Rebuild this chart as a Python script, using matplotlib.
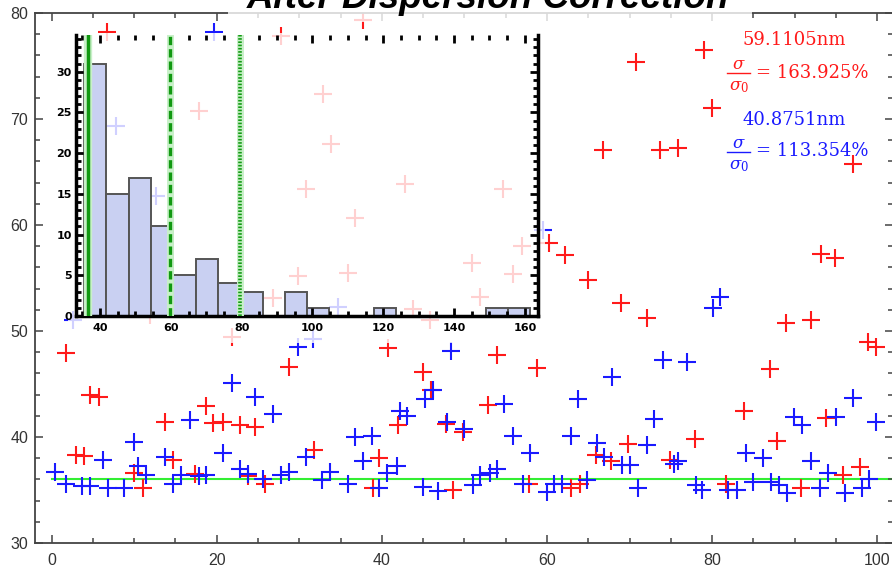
import matplotlib.pyplot as plt
import numpy as np
from matplotlib.patches import Rectangle
from matplotlib.lines import Line2D
from matplotlib.ticker import MultipleLocator


# Scatter data (positions along x are not exact integers)
red_x = [1.75, 2.96, 3.97, 4.6, 5.8, 6.7, 10.0, 11.05, 11.9, 13.8, 14.7, 17.4, 17.8, 18.7, 19.5,
         20.8, 21.8, 22.8, 23.8, 24.7, 25.8, 26.8, 27.8, 28.8, 29.9, 30.8, 31.8, 32.9, 33.8, 35.9,
         36.8, 37.75, 38.9, 39.7, 40.75, 42.0, 42.8, 43.8, 45.0, 45.8, 46.0, 47.8, 48.6, 49.8, 50.9,
         51.9, 52.9, 53.9, 54.7, 55.9, 57.0, 57.8, 58.8, 60.2, 62.2, 62.9, 64.0, 65.0, 65.9, 66.8,
         67.8, 69.0, 69.8, 70.8, 72.1, 73.7, 74.9, 75.9, 77.9, 79.0, 80.0, 81.7, 83.9, 87.0, 87.8,
         89.0, 90.8, 92.0, 93.2, 93.8, 94.9, 95.8, 97.0, 97.9, 98.9, 99.9]
red_y = [47.9, 38.3, 38.2, 44.0, 43.8, 78.2, 36.6, 35.2, 51.5, 41.4, 37.8, 36.5, 70.8, 42.9, 41.3,
         41.4, 49.4, 41.1, 36.3, 40.9, 35.6, 53.1, 77.8, 46.6, 55.2, 63.4, 38.8, 72.4, 67.6, 55.5,
         60.7, 79.3, 35.2, 38.0, 48.4, 41.1, 63.9, 52.1, 46.1, 51.0, 44.4, 41.2, 35.0, 40.5, 56.4,
         53.2, 43.0, 47.7, 63.4, 55.4, 58.0, 35.6, 46.5, 58.3, 57.2, 35.2, 35.6, 54.8, 38.3, 67.1,
         37.7, 52.6, 39.3, 75.4, 51.2, 67.1, 37.8, 67.3, 39.8, 76.5, 71.0, 35.6, 42.5, 46.4, 39.6,
         50.8, 35.2, 51.0, 57.3, 41.8, 56.9, 36.4, 65.8, 37.2, 49.0, 48.5]

blue_x = [0.4, 1.75, 2.6, 3.7, 4.6, 6.2, 6.8, 7.8, 8.8, 10.0, 10.5, 11.5, 12.7, 13.8, 14.7,
          15.7, 16.8, 17.8, 18.7, 19.7, 20.8, 21.8, 22.8, 23.8, 24.7, 25.6, 26.8, 27.8, 28.8, 29.9,
          30.8, 31.7, 32.8, 33.7, 34.7, 35.9, 36.7, 37.7, 38.8, 39.6, 40.6, 41.8, 42.2, 43.1, 45.0,
          45.2, 46.2, 46.8, 47.9, 48.4, 49.9, 51.0, 51.9, 53.1, 54.0, 54.8, 55.9, 57.1, 57.9, 59.5,
          60.0, 60.9, 61.8, 62.9, 63.8, 64.8, 66.0, 66.9, 67.9, 69.1, 70.1, 71.0, 72.1, 72.9, 74.0,
          75.4, 75.9, 77.0, 78.1, 78.8, 80.1, 81.0, 81.9, 83.0, 84.1, 85.0, 86.1, 87.1, 88.1, 89.1,
          89.9, 90.9, 92.0, 93.1, 94.0, 95.0, 96.1, 97.0, 98.1, 99.0, 99.9]
blue_y = [36.7, 35.6, 51.0, 35.4, 35.4, 37.8, 35.2, 69.3, 35.2, 39.5, 37.3, 36.4, 62.7, 38.1, 35.6,
          36.4, 41.6, 36.3, 36.4, 78.2, 38.5, 45.1, 37.0, 36.5, 43.8, 36.0, 42.2, 36.4, 36.7, 48.5,
          38.1, 49.2, 35.9, 36.7, 52.3, 35.6, 40.0, 37.7, 40.1, 35.2, 36.6, 37.3, 42.5, 42.0, 35.3,
          43.6, 44.4, 34.9, 41.4, 48.1, 40.8, 35.5, 36.4, 36.6, 37.0, 43.1, 40.1, 35.6, 38.5, 59.5,
          34.8, 35.6, 35.6, 40.1, 43.6, 35.9, 39.4, 38.1, 45.7, 37.4, 37.4, 35.2, 39.2, 41.7, 47.3,
          37.5, 37.7, 47.1, 35.5, 35.0, 52.2, 53.2, 35.0, 35.0, 38.5, 35.8, 38.0, 35.8, 35.5, 34.7,
          41.9, 41.1, 37.7, 35.2, 36.6, 41.9, 34.7, 43.7, 35.2, 36.0, 41.4]

target = 36

# Histogram of the red series (counts per bin)
bin_start, bin_width = 35.5, 6.3
hist_counts = [31, 15, 17, 11, 5, 7, 4, 3, 0, 3, 1, 0, 0, 1, 0, 0, 0, 0, 1, 1]
mark_solid, mark_dashed, mark_dotted = 36.5, 59.8, 79.5

red_label, red_ratio = "59.1105nm", "163.925%"
blue_label, blue_ratio = "40.8751nm", "113.354%"

W, H = 892, 568
plt.rcParams['mathtext.fontset'] = 'dejavuserif'

fig = plt.figure(figsize=(W / 100, H / 100), dpi=100)
fig.patch.set_facecolor("white")

# main axes: px left 35, right 893, top 13, bottom 543
ax = fig.add_axes([35 / W, (H - 543) / H, 858 / W, 530 / H])
ax.set_xlim(-2.0, 101.9)
ax.set_ylim(30, 80)
ax.axhline(target, xmin=2.0 / 103.9, color="#33ee33", lw=1.5, zorder=1)
ax.plot(red_x, red_y, ls="none", marker="+", ms=13.5, mew=1.5, color="#ff1a1a", zorder=2)
ax.plot(blue_x, blue_y, ls="none", marker="+", ms=13.5, mew=1.5, color="#1a1aff", zorder=3)

ax.xaxis.set_major_locator(MultipleLocator(20))
ax.xaxis.set_minor_locator(MultipleLocator(5))
ax.yaxis.set_major_locator(MultipleLocator(10))
ax.yaxis.set_minor_locator(MultipleLocator(2))
ax.tick_params(which="both", direction="in", top=True, right=True, color="#444444", width=1.1)
ax.tick_params(which="major", length=6)
ax.tick_params(which="minor", length=3.5)
ax.tick_params(axis="x", pad=7)
ax.tick_params(axis="y", pad=5)
for lab in ax.get_xticklabels() + ax.get_yticklabels():
    lab.set_fontfamily("Liberation Sans")
    lab.set_fontsize(11.5)
    lab.set_color("#333333")
for s in ax.spines.values():
    s.set_color("#444444")
    s.set_linewidth(1.3)

# translucent backing behind the inset (fades the points underneath)
fig.patches.append(Rectangle((68 / W, (H - 343) / H), 477 / W, 310 / H, transform=fig.transFigure,
                             facecolor="white", edgecolor="none", alpha=0.8, zorder=1))

# inset histogram: px left 76, right 538, top 35, bottom 316
ins = fig.add_axes([76 / W, (H - 316) / H, 462 / W, 281 / H], zorder=2)
ins.patch.set_alpha(0)
edges = bin_start + bin_width * np.arange(len(hist_counts) + 1)
ins.hist(edges[:-1], bins=edges, weights=hist_counts, color="#c9d0f2", edgecolor="#555555", lw=1.4)
ins.axvline(mark_solid, color="#c8f0c8", lw=6, zorder=3)
ins.axvline(mark_solid, color="#119911", lw=2.5, zorder=4)
ins.axvline(mark_dashed, color="#c8f0c8", lw=5, zorder=3)
ins.axvline(mark_dashed, color="#119911", lw=2.4, ls=(0, (2.5, 1.2)), zorder=4)
ins.axvline(mark_dotted, color="#c8f0c8", lw=5, zorder=3)
ins.axvline(mark_dotted, color="#119911", lw=2.6, ls=(0, (0.45, 0.45)), zorder=4)
ins.set_xlim(33.2, 163.7)
ins.set_ylim(0, 34.5)
ins.xaxis.set_major_locator(MultipleLocator(20))
ins.xaxis.set_minor_locator(MultipleLocator(5))
ins.yaxis.set_major_locator(MultipleLocator(5))
ins.yaxis.set_minor_locator(MultipleLocator(1))
ins.tick_params(which="both", direction="in", top=True, right=True, color="black", width=2)
ins.tick_params(which="major", length=6)
ins.tick_params(which="minor", length=3.5)
ins.tick_params(axis="x", pad=5)
ins.tick_params(axis="y", pad=3)
for lab in ins.get_xticklabels() + ins.get_yticklabels():
    lab.set_fontfamily("DejaVu Sans")
    lab.set_fontweight("bold")
    lab.set_fontsize(8)
ins.spines["top"].set_visible(False)
for k in ["left", "right", "bottom"]:
    ins.spines[k].set_linewidth(2.5)

# statistics annotations
serif = "DejaVu Serif"
for label, ratio, col, y_lab, y_bar in [(red_label, red_ratio, "#ff1a1a", 40, 73),
                                        (blue_label, blue_ratio, "#1a1aff", 120, 151.5)]:
    fig.text(794 / W, 1 - y_lab / H, label, color=col, family=serif, fontsize=13,
             ha="center", va="center")
    fig.text(738.5 / W, 1 - (y_bar - 9) / H, r"$\sigma$", color=col, fontsize=12,
             ha="center", va="center")
    fig.text(738.5 / W, 1 - (y_bar + 13) / H, r"$\sigma_0$", color=col, fontsize=12,
             ha="center", va="center")
    fig.add_artist(Line2D([727 / W, 750 / W], [1 - y_bar / H] * 2, color=col, lw=1.0,
                          transform=fig.transFigure))
    fig.text(756 / W, 1 - y_bar / H, "= " + ratio, color=col, family=serif, fontsize=13,
             ha="left", va="center")

# title, partly cut off at the top, on a translucent band
fig.patches.append(Rectangle((228 / W, (H - 22) / H), 524 / W, 22 / H, transform=fig.transFigure,
                             facecolor="white", edgecolor="none", alpha=0.8, zorder=3))
fig.text(488 / W, 1 - 8 / H, "After Dispersion Correction", family="Liberation Sans",
         fontweight="bold", fontstyle="italic", fontsize=26.5, ha="center", va="baseline",
         zorder=4)

fig.savefig("out.png", dpi=100)
